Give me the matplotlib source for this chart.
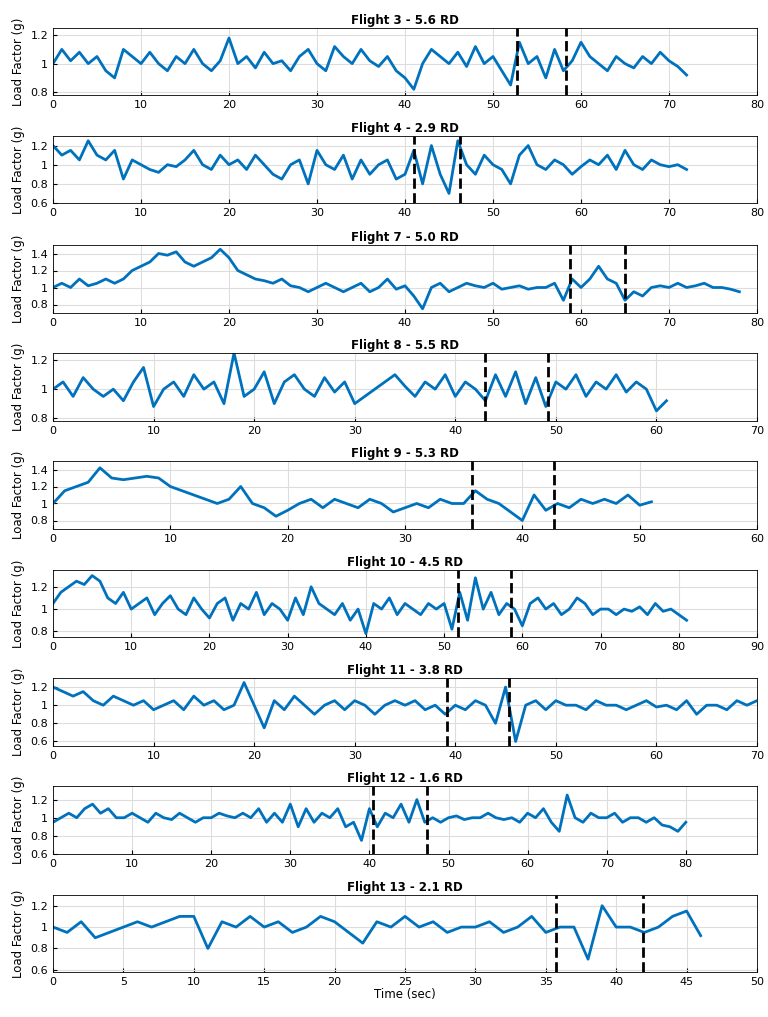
import matplotlib
matplotlib.use("Agg")
import matplotlib.pyplot as plt
import numpy as np

# load factor samples, 1 s spacing
f3 = [1.0,1.1,1.02,1.08,1.0,1.05,0.95,0.9,1.1,1.05,1.0,1.08,1.0,0.95,1.05,1.0,1.1,1.0,0.95,1.02,1.18,1.0,1.05,0.97,1.08,1.0,1.02,0.95,1.05,1.1,1.0,0.95,1.12,1.05,1.0,1.1,1.02,0.98,1.05,0.95,0.9,0.82,1.0,1.1,1.05,1.0,1.08,0.98,1.12,1.0,1.05,0.95,0.85,1.15,1.0,1.05,0.9,1.1,0.95,1.02,1.15,1.05,1.0,0.95,1.05,1.0,0.97,1.05,1.0,1.08,1.02,0.98,0.92]
f4 = [1.2,1.1,1.15,1.05,1.25,1.1,1.05,1.15,0.85,1.05,1.0,0.95,0.92,1.0,0.98,1.05,1.15,1.0,0.95,1.1,1.0,1.05,0.95,1.1,1.0,0.9,0.85,1.0,1.05,0.8,1.15,1.0,0.95,1.1,0.85,1.05,0.9,1.0,1.05,0.85,0.9,1.15,0.8,1.2,0.9,0.7,1.25,1.0,0.9,1.1,1.0,0.95,0.8,1.1,1.2,1.0,0.95,1.05,1.0,0.9,0.98,1.05,1.0,1.1,0.95,1.15,1.0,0.95,1.05,1.0,0.98,1.0,0.95]
f7 = [1.0,1.05,1.0,1.1,1.02,1.05,1.1,1.05,1.1,1.2,1.25,1.3,1.4,1.38,1.42,1.3,1.25,1.3,1.35,1.45,1.35,1.2,1.15,1.1,1.08,1.05,1.1,1.02,1.0,0.95,1.0,1.05,1.0,0.95,1.0,1.05,0.95,1.0,1.1,0.98,1.02,0.9,0.75,1.0,1.05,0.95,1.0,1.05,1.02,1.0,1.05,0.98,1.0,1.02,0.98,1.0,1.0,1.05,0.85,1.1,1.0,1.1,1.25,1.1,1.05,0.85,0.95,0.9,1.0,1.02,1.0,1.05,1.0,1.02,1.05,1.0,1.0,0.98,0.95]
f8 = [1.0,1.05,0.95,1.08,1.0,0.95,1.0,0.92,1.05,1.15,0.88,1.0,1.05,0.95,1.1,1.0,1.05,0.9,1.25,0.95,1.0,1.12,0.9,1.05,1.1,1.0,0.95,1.08,0.98,1.05,0.9,0.95,1.0,1.05,1.1,1.02,0.95,1.05,1.0,1.1,0.95,1.05,1.0,0.92,1.1,0.95,1.12,0.9,1.08,0.88,1.05,1.0,1.1,0.95,1.05,1.0,1.1,0.98,1.05,1.0,0.85,0.92]
f9 = [1.0,1.15,1.2,1.25,1.42,1.3,1.28,1.3,1.32,1.3,1.2,1.15,1.1,1.05,1.0,1.05,1.2,1.0,0.95,0.85,0.92,1.0,1.05,0.95,1.05,1.0,0.95,1.05,1.0,0.9,0.95,1.0,0.95,1.05,1.0,1.0,1.15,1.05,1.0,0.9,0.8,1.1,0.92,1.0,0.95,1.05,1.0,1.05,1.0,1.1,0.98,1.02]
f10 = [1.05,1.15,1.2,1.25,1.22,1.3,1.25,1.1,1.05,1.15,1.0,1.05,1.1,0.95,1.05,1.12,1.0,0.95,1.1,1.0,0.92,1.05,1.1,0.9,1.05,1.0,1.15,0.95,1.05,1.0,0.9,1.1,0.95,1.2,1.05,1.0,0.95,1.05,0.9,1.0,0.78,1.05,1.0,1.1,0.95,1.05,1.0,0.95,1.05,1.0,1.05,0.82,1.15,0.9,1.28,1.0,1.15,0.95,1.05,1.0,0.85,1.05,1.1,1.0,1.05,0.95,1.0,1.1,1.05,0.95,1.0,1.0,0.95,1.0,0.98,1.02,0.95,1.05,0.98,1.0,0.95,0.9]
f11 = [1.2,1.15,1.1,1.15,1.05,1.0,1.1,1.05,1.0,1.05,0.95,1.0,1.05,0.95,1.1,1.0,1.05,0.95,1.0,1.25,1.0,0.75,1.05,0.95,1.1,1.0,0.9,1.0,1.05,0.95,1.05,1.0,0.9,1.0,1.05,1.0,1.05,0.95,1.0,0.9,1.0,0.95,1.05,1.0,0.8,1.2,0.6,1.0,1.05,0.95,1.05,1.0,1.0,0.95,1.05,1.0,1.0,0.95,1.0,1.05,0.98,1.0,0.95,1.05,0.9,1.0,1.0,0.95,1.05,1.0,1.05]
f12 = [0.95,1.0,1.05,1.0,1.1,1.15,1.05,1.1,1.0,1.0,1.05,1.0,0.95,1.05,1.0,0.98,1.05,1.0,0.95,1.0,1.0,1.05,1.02,1.0,1.05,1.0,1.1,0.95,1.05,0.95,1.15,0.9,1.1,0.95,1.05,1.0,1.1,0.9,0.95,0.75,1.1,0.9,1.05,1.0,1.15,0.95,1.2,0.95,1.0,0.95,1.0,1.02,0.98,1.0,1.0,1.05,1.0,0.98,1.0,0.95,1.05,1.0,1.1,0.95,0.85,1.25,1.0,0.95,1.05,1.0,1.0,1.05,0.95,1.0,1.0,0.95,1.0,0.92,0.9,0.85,0.95]
f13 = [1.0,0.95,1.05,0.9,0.95,1.0,1.05,1.0,1.05,1.1,1.1,0.8,1.05,1.0,1.1,1.0,1.05,0.95,1.0,1.1,1.05,0.95,0.85,1.05,1.0,1.1,1.0,1.05,0.95,1.0,1.0,1.05,0.95,1.0,1.1,0.95,1.0,1.0,0.7,1.2,1.0,1.0,0.95,1.0,1.1,1.15,0.92]

titles = ["Flight 3 - 5.6 RD", "Flight 4 - 2.9 RD", "Flight 7 - 5.0 RD", "Flight 8 - 5.5 RD",
          "Flight 9 - 5.3 RD", "Flight 10 - 4.5 RD", "Flight 11 - 3.8 RD", "Flight 12 - 1.6 RD",
          "Flight 13 - 2.1 RD"]
series = [f3, f4, f7, f8, f9, f10, f11, f12, f13]
xmax = [80, 80, 80, 70, 60, 90, 70, 89, 50]
xstep = [10, 10, 10, 10, 10, 10, 10, 10, 5]
xtickmax = [80, 80, 80, 70, 60, 90, 70, 80, 50]
ylims = [(0.78, 1.25), (0.6, 1.3), (0.7, 1.5), (0.78, 1.25), (0.7, 1.5),
         (0.75, 1.35), (0.55, 1.3), (0.6, 1.35), (0.58, 1.3)]
yticks = [[0.8, 1, 1.2], [0.6, 0.8, 1, 1.2], [0.8, 1, 1.2, 1.4], [0.8, 1, 1.2], [0.8, 1, 1.2, 1.4],
          [0.8, 1, 1.2], [0.6, 0.8, 1, 1.2], [0.6, 0.8, 1, 1.2], [0.6, 0.8, 1, 1.2]]
dashes = [(52.7, 58.3), (41, 46.3), (58.8, 65), (43, 49.2), (35.7, 42.7),
          (51.8, 58.5), (39.2, 45.3), (40.5, 47.3), (35.7, 41.9)]

fig = plt.figure(figsize=(7.68, 10.17), dpi=100)
W, H = 768, 1017
tops = [28, 136, 245, 353, 461, 570, 678, 786, 895]
heights = [67, 67, 68, 68, 68, 67, 68, 68, 77]
for i in range(9):
    ax = fig.add_axes([53 / W, 1 - (tops[i] + heights[i]) / H, 704 / W, heights[i] / H])
    y = series[i]
    x = np.arange(len(y))
    ax.plot(x, y, color="#0072BD", lw=2)
    for d in dashes[i]:
        ax.axvline(d, color="black", ls="--", lw=2)
    ax.set_xlim(0, xmax[i])
    ax.set_ylim(*ylims[i])
    ax.set_xticks(np.arange(0, xtickmax[i] + 1, xstep[i]))
    ax.set_yticks(yticks[i])
    ax.set_yticklabels([f"{v:g}" for v in yticks[i]])
    ax.grid(True, color="#dddddd", lw=0.8)
    ax.tick_params(labelsize=8, direction="in", length=3)
    ax.set_title(titles[i], fontsize=8.5, fontweight="bold", pad=3)
    ax.set_ylabel("Load Factor (g)", fontsize=8.5)
    for s in ax.spines.values():
        s.set_linewidth(0.6)
ax.set_xlabel("Time (sec)", fontsize=8.5, labelpad=1)

fig.savefig("out.png", dpi=100)
